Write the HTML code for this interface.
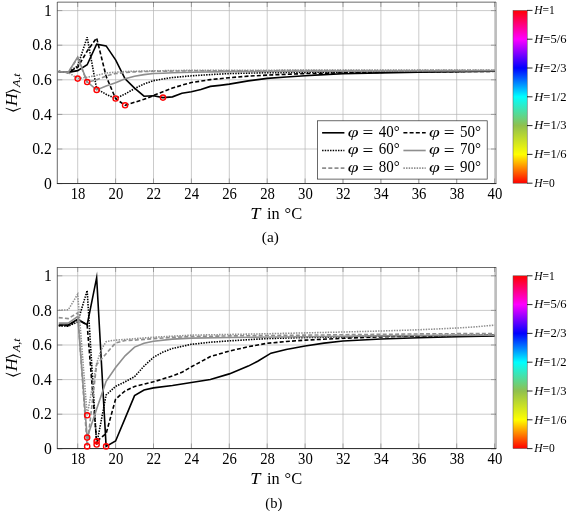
<!DOCTYPE html>
<html lang="en">
<head>
<meta charset="utf-8">
<title>Plot</title>
<style>
html,body{margin:0;padding:0;background:#fff;}
body{width:568px;height:511px;overflow:hidden;font-family:"Liberation Serif", "DejaVu Serif", "DejaVu Sans", serif;}
svg{display:block;}
</style>
</head>
<body>
<svg width="568" height="511" viewBox="0 0 568 511" font-family='"Liberation Serif", "DejaVu Serif", "DejaVu Sans", serif' fill="#000">
<rect x="0" y="0" width="568" height="511" fill="#fff"/>
<g>
<line x1="77.7" y1="2" x2="77.7" y2="183.5" stroke="#b4b4b4" stroke-width="0.7"/>
<line x1="115.6" y1="2" x2="115.6" y2="183.5" stroke="#b4b4b4" stroke-width="0.7"/>
<line x1="153.5" y1="2" x2="153.5" y2="183.5" stroke="#b4b4b4" stroke-width="0.7"/>
<line x1="191.4" y1="2" x2="191.4" y2="183.5" stroke="#b4b4b4" stroke-width="0.7"/>
<line x1="229.3" y1="2" x2="229.3" y2="183.5" stroke="#b4b4b4" stroke-width="0.7"/>
<line x1="267.2" y1="2" x2="267.2" y2="183.5" stroke="#b4b4b4" stroke-width="0.7"/>
<line x1="305.1" y1="2" x2="305.1" y2="183.5" stroke="#b4b4b4" stroke-width="0.7"/>
<line x1="343" y1="2" x2="343" y2="183.5" stroke="#b4b4b4" stroke-width="0.7"/>
<line x1="380.9" y1="2" x2="380.9" y2="183.5" stroke="#b4b4b4" stroke-width="0.7"/>
<line x1="418.8" y1="2" x2="418.8" y2="183.5" stroke="#b4b4b4" stroke-width="0.7"/>
<line x1="456.7" y1="2" x2="456.7" y2="183.5" stroke="#b4b4b4" stroke-width="0.7"/>
<line x1="494.6" y1="2" x2="494.6" y2="183.5" stroke="#b4b4b4" stroke-width="0.7"/>
<line x1="57.3" y1="183.6" x2="496" y2="183.6" stroke="#b4b4b4" stroke-width="0.7"/>
<line x1="57.3" y1="149" x2="496" y2="149" stroke="#b4b4b4" stroke-width="0.7"/>
<line x1="57.3" y1="114.4" x2="496" y2="114.4" stroke="#b4b4b4" stroke-width="0.7"/>
<line x1="57.3" y1="79.8" x2="496" y2="79.8" stroke="#b4b4b4" stroke-width="0.7"/>
<line x1="57.3" y1="45.2" x2="496" y2="45.2" stroke="#b4b4b4" stroke-width="0.7"/>
<line x1="57.3" y1="10.6" x2="496" y2="10.6" stroke="#b4b4b4" stroke-width="0.7"/>
<line x1="77.7" y1="183.5" x2="77.7" y2="178.5" stroke="#858585" stroke-width="0.7"/>
<line x1="77.7" y1="2" x2="77.7" y2="7" stroke="#858585" stroke-width="0.7"/>
<line x1="115.6" y1="183.5" x2="115.6" y2="178.5" stroke="#858585" stroke-width="0.7"/>
<line x1="115.6" y1="2" x2="115.6" y2="7" stroke="#858585" stroke-width="0.7"/>
<line x1="153.5" y1="183.5" x2="153.5" y2="178.5" stroke="#858585" stroke-width="0.7"/>
<line x1="153.5" y1="2" x2="153.5" y2="7" stroke="#858585" stroke-width="0.7"/>
<line x1="191.4" y1="183.5" x2="191.4" y2="178.5" stroke="#858585" stroke-width="0.7"/>
<line x1="191.4" y1="2" x2="191.4" y2="7" stroke="#858585" stroke-width="0.7"/>
<line x1="229.3" y1="183.5" x2="229.3" y2="178.5" stroke="#858585" stroke-width="0.7"/>
<line x1="229.3" y1="2" x2="229.3" y2="7" stroke="#858585" stroke-width="0.7"/>
<line x1="267.2" y1="183.5" x2="267.2" y2="178.5" stroke="#858585" stroke-width="0.7"/>
<line x1="267.2" y1="2" x2="267.2" y2="7" stroke="#858585" stroke-width="0.7"/>
<line x1="305.1" y1="183.5" x2="305.1" y2="178.5" stroke="#858585" stroke-width="0.7"/>
<line x1="305.1" y1="2" x2="305.1" y2="7" stroke="#858585" stroke-width="0.7"/>
<line x1="343" y1="183.5" x2="343" y2="178.5" stroke="#858585" stroke-width="0.7"/>
<line x1="343" y1="2" x2="343" y2="7" stroke="#858585" stroke-width="0.7"/>
<line x1="380.9" y1="183.5" x2="380.9" y2="178.5" stroke="#858585" stroke-width="0.7"/>
<line x1="380.9" y1="2" x2="380.9" y2="7" stroke="#858585" stroke-width="0.7"/>
<line x1="418.8" y1="183.5" x2="418.8" y2="178.5" stroke="#858585" stroke-width="0.7"/>
<line x1="418.8" y1="2" x2="418.8" y2="7" stroke="#858585" stroke-width="0.7"/>
<line x1="456.7" y1="183.5" x2="456.7" y2="178.5" stroke="#858585" stroke-width="0.7"/>
<line x1="456.7" y1="2" x2="456.7" y2="7" stroke="#858585" stroke-width="0.7"/>
<line x1="494.6" y1="183.5" x2="494.6" y2="178.5" stroke="#858585" stroke-width="0.7"/>
<line x1="494.6" y1="2" x2="494.6" y2="7" stroke="#858585" stroke-width="0.7"/>
<line x1="57.3" y1="183.6" x2="62.3" y2="183.6" stroke="#858585" stroke-width="0.7"/>
<line x1="496" y1="183.6" x2="491" y2="183.6" stroke="#858585" stroke-width="0.7"/>
<line x1="57.3" y1="149" x2="62.3" y2="149" stroke="#858585" stroke-width="0.7"/>
<line x1="496" y1="149" x2="491" y2="149" stroke="#858585" stroke-width="0.7"/>
<line x1="57.3" y1="114.4" x2="62.3" y2="114.4" stroke="#858585" stroke-width="0.7"/>
<line x1="496" y1="114.4" x2="491" y2="114.4" stroke="#858585" stroke-width="0.7"/>
<line x1="57.3" y1="79.8" x2="62.3" y2="79.8" stroke="#858585" stroke-width="0.7"/>
<line x1="496" y1="79.8" x2="491" y2="79.8" stroke="#858585" stroke-width="0.7"/>
<line x1="57.3" y1="45.2" x2="62.3" y2="45.2" stroke="#858585" stroke-width="0.7"/>
<line x1="496" y1="45.2" x2="491" y2="45.2" stroke="#858585" stroke-width="0.7"/>
<line x1="57.3" y1="10.6" x2="62.3" y2="10.6" stroke="#858585" stroke-width="0.7"/>
<line x1="496" y1="10.6" x2="491" y2="10.6" stroke="#858585" stroke-width="0.7"/>
<line x1="57.3" y1="2.15" x2="496" y2="2.15" stroke="#2a2a2a" stroke-width="0.7"/>
<line x1="57.3" y1="2" x2="57.3" y2="183.5" stroke="#2a2a2a" stroke-width="0.7"/>
<line x1="496" y1="2" x2="496" y2="183.5" stroke="#4a4a4a" stroke-width="0.7"/>
<line x1="56.9" y1="183.5" x2="496.4" y2="183.5" stroke="#222" stroke-width="0.9"/>
<clipPath id="clipa"><rect x="57.3" y="2" width="438.7" height="181.5"/></clipPath>
<g clip-path="url(#clipa)" stroke-linejoin="miter">
<polyline points="58.75,71.67 68.23,72.36 77.7,70.63 87.17,64.75 96.65,44.16 106.12,45.89 115.6,59.91 125.08,78.76 134.55,88.1 144.03,96.23 153.5,95.8 162.97,97.62 172.45,96.84 181.93,93.29 191.4,91.74 200.88,89.49 210.35,86.37 219.82,85.34 229.3,84.12 248.25,80.84 267.2,78.42 286.15,77.03 305.1,75.82 324.05,74.61 343,73.74 380.9,72.88 418.8,72.19 456.7,71.67 494.6,71.32" stroke="#000" stroke-width="1.6" fill="none" stroke-miterlimit="10"/>
<polyline points="58.75,71.67 68.23,72.36 77.7,67.34 87.17,51.08 96.65,37.93 106.12,76.34 115.6,98.55 125.08,105.3 134.55,102.29 144.03,99.35 153.5,95.54 162.97,91.74 172.45,88.1 181.93,85.16 191.4,82.57 210.35,79.63 229.3,77.72 248.25,76.17 267.2,75.13 305.1,73.57 324.05,73.23 343,72.88 380.9,72.36 418.8,71.84 494.6,71.32" stroke="#000" stroke-width="1.6" fill="none" stroke-dasharray="4 2.2"/>
<polyline points="58.75,71.67 68.23,72.36 77.7,65.96 87.17,37.24 96.65,88.8 106.12,94.33 115.6,98.55 125.08,93.99 134.55,88.62 144.03,83.95 153.5,80.66 162.97,78.94 172.45,77.55 191.4,75.82 210.35,74.61 229.3,73.57 267.2,72.71 305.1,72.36 380.9,71.84 494.6,71.15" stroke="#000" stroke-width="1.6" fill="none" stroke-dasharray="1.45 1.2"/>
<polyline points="58.75,71.67 68.23,72.36 77.7,56.96 87.17,81.88 96.65,89.92 106.12,86.03 115.6,82.74 125.08,78.76 134.55,76.17 144.03,74.61 153.5,73.57 162.97,73.23 172.45,72.71 191.4,72.19 229.3,71.67 305.1,71.15 494.6,70.8" stroke="#8e8e8e" stroke-width="1.6" fill="none" stroke-miterlimit="10"/>
<polyline points="58.75,71.67 68.23,72.36 77.7,58 87.17,82.22 96.65,79.8 106.12,75.99 115.6,73.57 125.08,72.53 134.55,71.84 153.5,71.32 191.4,70.8 305.1,70.63 494.6,70.28" stroke="#8e8e8e" stroke-width="1.6" fill="none" stroke-dasharray="4 2.2"/>
<polyline points="58.75,71.67 68.23,72.36 77.7,78.59 87.17,77.2 96.65,75.3 106.12,73.05 115.6,72.19 125.08,71.5 153.5,70.8 191.4,70.28 305.1,70.11 494.6,69.94" stroke="#8e8e8e" stroke-width="1.55" fill="none" stroke-dasharray="1.45 1.2"/>
</g>
<circle cx="77.7" cy="78.59" r="2.6" fill="none" stroke="#f00" stroke-width="1.4"/>
<circle cx="87.17" cy="82.05" r="2.6" fill="none" stroke="#f00" stroke-width="1.4"/>
<circle cx="96.65" cy="89.92" r="2.6" fill="none" stroke="#f00" stroke-width="1.4"/>
<circle cx="115.6" cy="98.55" r="2.6" fill="none" stroke="#f00" stroke-width="1.4"/>
<circle cx="125.08" cy="105.3" r="2.6" fill="none" stroke="#f00" stroke-width="1.4"/>
<circle cx="162.97" cy="97.62" r="2.6" fill="none" stroke="#f00" stroke-width="1.4"/>
<text x="78" y="198.5" text-anchor="middle" font-size="15.7" textLength="14.7" lengthAdjust="spacingAndGlyphs">18</text>
<text x="115.9" y="198.5" text-anchor="middle" font-size="15.7" textLength="14.7" lengthAdjust="spacingAndGlyphs">20</text>
<text x="153.8" y="198.5" text-anchor="middle" font-size="15.7" textLength="14.7" lengthAdjust="spacingAndGlyphs">22</text>
<text x="191.7" y="198.5" text-anchor="middle" font-size="15.7" textLength="14.7" lengthAdjust="spacingAndGlyphs">24</text>
<text x="229.6" y="198.5" text-anchor="middle" font-size="15.7" textLength="14.7" lengthAdjust="spacingAndGlyphs">26</text>
<text x="267.5" y="198.5" text-anchor="middle" font-size="15.7" textLength="14.7" lengthAdjust="spacingAndGlyphs">28</text>
<text x="305.4" y="198.5" text-anchor="middle" font-size="15.7" textLength="14.7" lengthAdjust="spacingAndGlyphs">30</text>
<text x="343.3" y="198.5" text-anchor="middle" font-size="15.7" textLength="14.7" lengthAdjust="spacingAndGlyphs">32</text>
<text x="381.2" y="198.5" text-anchor="middle" font-size="15.7" textLength="14.7" lengthAdjust="spacingAndGlyphs">34</text>
<text x="419.1" y="198.5" text-anchor="middle" font-size="15.7" textLength="14.7" lengthAdjust="spacingAndGlyphs">36</text>
<text x="457" y="198.5" text-anchor="middle" font-size="15.7" textLength="14.7" lengthAdjust="spacingAndGlyphs">38</text>
<text x="494.9" y="198.5" text-anchor="middle" font-size="15.7" textLength="14.7" lengthAdjust="spacingAndGlyphs">40</text>
<text x="51.8" y="188.8" text-anchor="end" font-size="15.7">0</text>
<text x="51.8" y="154.2" text-anchor="end" font-size="15.7" textLength="19.6" lengthAdjust="spacingAndGlyphs">0.2</text>
<text x="51.8" y="119.6" text-anchor="end" font-size="15.7" textLength="19.6" lengthAdjust="spacingAndGlyphs">0.4</text>
<text x="51.8" y="85" text-anchor="end" font-size="15.7" textLength="19.6" lengthAdjust="spacingAndGlyphs">0.6</text>
<text x="51.8" y="50.4" text-anchor="end" font-size="15.7" textLength="19.6" lengthAdjust="spacingAndGlyphs">0.8</text>
<text x="51.8" y="15.8" text-anchor="end" font-size="15.7">1</text>
<text x="250.3" y="219.25" font-size="15.9" font-style="italic" textLength="10.2" lengthAdjust="spacingAndGlyphs">T</text>
<text x="267" y="219.25" font-size="15.9" textLength="12.7" lengthAdjust="spacingAndGlyphs">in</text>
<text x="284.6" y="219.25" font-size="15.9" textLength="17.6" lengthAdjust="spacingAndGlyphs">°C</text>
<text x="261.8" y="242" font-size="14" textLength="17" lengthAdjust="spacingAndGlyphs">(a)</text>
<text transform="translate(17.9 113.05) rotate(-90)" font-size="18" font-family='"DejaVu Math TeX Gyre", "DejaVu Sans", sans-serif' textLength="6" lengthAdjust="spacingAndGlyphs">⟨</text>
<text transform="translate(17.2 106.3) rotate(-90)" font-size="15.7" font-style="italic" textLength="13" lengthAdjust="spacingAndGlyphs">H</text>
<text transform="translate(17.9 93.9) rotate(-90)" font-size="18" font-family='"DejaVu Math TeX Gyre", "DejaVu Sans", sans-serif' textLength="6" lengthAdjust="spacingAndGlyphs">⟩</text>
<text transform="translate(19.5 87.1) rotate(-90)" font-size="10.5" font-style="italic" textLength="13.6" lengthAdjust="spacingAndGlyphs">A,t</text>
<rect x="317.4" y="120.8" width="169.8" height="58.3" fill="#fff" stroke="#2a2a2a" stroke-width="0.7"/>
<line x1="322.1" y1="132.8" x2="344.4" y2="132.8" stroke="#000" stroke-width="1.6" fill="none" stroke-miterlimit="10"/>
<text x="347.7" y="136.6" font-size="15.5" font-style="italic" textLength="10.8" lengthAdjust="spacingAndGlyphs">φ</text>
<text x="362.5" y="138.4" font-size="17" textLength="10.8" lengthAdjust="spacingAndGlyphs">=</text>
<text x="378.8" y="136.6" font-size="16.2" textLength="21" lengthAdjust="spacingAndGlyphs">40°</text>
<line x1="403.4" y1="132.8" x2="425.7" y2="132.8" stroke="#000" stroke-width="1.6" fill="none" stroke-dasharray="4 2.2"/>
<text x="429" y="136.6" font-size="15.5" font-style="italic" textLength="10.8" lengthAdjust="spacingAndGlyphs">φ</text>
<text x="443.8" y="138.4" font-size="17" textLength="10.8" lengthAdjust="spacingAndGlyphs">=</text>
<text x="460.1" y="136.6" font-size="16.2" textLength="21" lengthAdjust="spacingAndGlyphs">50°</text>
<line x1="322.1" y1="150.5" x2="344.4" y2="150.5" stroke="#000" stroke-width="1.6" fill="none" stroke-dasharray="1.45 1.2"/>
<text x="347.7" y="154.3" font-size="15.5" font-style="italic" textLength="10.8" lengthAdjust="spacingAndGlyphs">φ</text>
<text x="362.5" y="156.1" font-size="17" textLength="10.8" lengthAdjust="spacingAndGlyphs">=</text>
<text x="378.8" y="154.3" font-size="16.2" textLength="21" lengthAdjust="spacingAndGlyphs">60°</text>
<line x1="403.4" y1="150.5" x2="425.7" y2="150.5" stroke="#8e8e8e" stroke-width="1.6" fill="none" stroke-miterlimit="10"/>
<text x="429" y="154.3" font-size="15.5" font-style="italic" textLength="10.8" lengthAdjust="spacingAndGlyphs">φ</text>
<text x="443.8" y="156.1" font-size="17" textLength="10.8" lengthAdjust="spacingAndGlyphs">=</text>
<text x="460.1" y="154.3" font-size="16.2" textLength="21" lengthAdjust="spacingAndGlyphs">70°</text>
<line x1="322.1" y1="168.1" x2="344.4" y2="168.1" stroke="#8e8e8e" stroke-width="1.6" fill="none" stroke-dasharray="4 2.2"/>
<text x="347.7" y="171.9" font-size="15.5" font-style="italic" textLength="10.8" lengthAdjust="spacingAndGlyphs">φ</text>
<text x="362.5" y="173.7" font-size="17" textLength="10.8" lengthAdjust="spacingAndGlyphs">=</text>
<text x="378.8" y="171.9" font-size="16.2" textLength="21" lengthAdjust="spacingAndGlyphs">80°</text>
<line x1="403.4" y1="168.1" x2="425.7" y2="168.1" stroke="#8e8e8e" stroke-width="1.55" fill="none" stroke-dasharray="1.45 1.2"/>
<text x="429" y="171.9" font-size="15.5" font-style="italic" textLength="10.8" lengthAdjust="spacingAndGlyphs">φ</text>
<text x="443.8" y="173.7" font-size="17" textLength="10.8" lengthAdjust="spacingAndGlyphs">=</text>
<text x="460.1" y="171.9" font-size="16.2" textLength="21" lengthAdjust="spacingAndGlyphs">90°</text>
<linearGradient id="cbga" x1="0" y1="1" x2="0" y2="0">
<stop offset="0%" stop-color="#ff0000"/>
<stop offset="16.67%" stop-color="#ffff00"/>
<stop offset="33.33%" stop-color="#90c04e"/>
<stop offset="50%" stop-color="#00ffff"/>
<stop offset="66.67%" stop-color="#0000ff"/>
<stop offset="83.33%" stop-color="#ff00ff"/>
<stop offset="100%" stop-color="#ff0000"/>
</linearGradient>
<rect x="513" y="10.4" width="14.2" height="172.8" fill="url(#cbga)" stroke="#555" stroke-width="0.5"/>
<line x1="527" y1="183.2" x2="532.5" y2="183.2" stroke="#111" stroke-width="0.9"/>
<text x="534.2" y="186.9" font-size="12" textLength="20.6" lengthAdjust="spacingAndGlyphs"><tspan font-style="italic">H</tspan>=0</text>
<line x1="527" y1="154.4" x2="532.5" y2="154.4" stroke="#111" stroke-width="0.9"/>
<text x="534.2" y="158.1" font-size="12" textLength="32.3" lengthAdjust="spacingAndGlyphs"><tspan font-style="italic">H</tspan>=1/6</text>
<line x1="527" y1="125.6" x2="532.5" y2="125.6" stroke="#111" stroke-width="0.9"/>
<text x="534.2" y="129.3" font-size="12" textLength="32.3" lengthAdjust="spacingAndGlyphs"><tspan font-style="italic">H</tspan>=1/3</text>
<line x1="527" y1="96.8" x2="532.5" y2="96.8" stroke="#111" stroke-width="0.9"/>
<text x="534.2" y="100.5" font-size="12" textLength="32.3" lengthAdjust="spacingAndGlyphs"><tspan font-style="italic">H</tspan>=1/2</text>
<line x1="527" y1="68" x2="532.5" y2="68" stroke="#111" stroke-width="0.9"/>
<text x="534.2" y="71.7" font-size="12" textLength="32.3" lengthAdjust="spacingAndGlyphs"><tspan font-style="italic">H</tspan>=2/3</text>
<line x1="527" y1="39.2" x2="532.5" y2="39.2" stroke="#111" stroke-width="0.9"/>
<text x="534.2" y="42.9" font-size="12" textLength="32.3" lengthAdjust="spacingAndGlyphs"><tspan font-style="italic">H</tspan>=5/6</text>
<line x1="527" y1="10.4" x2="532.5" y2="10.4" stroke="#111" stroke-width="0.9"/>
<text x="534.2" y="14.1" font-size="12" textLength="20.6" lengthAdjust="spacingAndGlyphs"><tspan font-style="italic">H</tspan>=1</text>
</g>
<g>
<line x1="77.7" y1="267" x2="77.7" y2="448.5" stroke="#b4b4b4" stroke-width="0.7"/>
<line x1="115.6" y1="267" x2="115.6" y2="448.5" stroke="#b4b4b4" stroke-width="0.7"/>
<line x1="153.5" y1="267" x2="153.5" y2="448.5" stroke="#b4b4b4" stroke-width="0.7"/>
<line x1="191.4" y1="267" x2="191.4" y2="448.5" stroke="#b4b4b4" stroke-width="0.7"/>
<line x1="229.3" y1="267" x2="229.3" y2="448.5" stroke="#b4b4b4" stroke-width="0.7"/>
<line x1="267.2" y1="267" x2="267.2" y2="448.5" stroke="#b4b4b4" stroke-width="0.7"/>
<line x1="305.1" y1="267" x2="305.1" y2="448.5" stroke="#b4b4b4" stroke-width="0.7"/>
<line x1="343" y1="267" x2="343" y2="448.5" stroke="#b4b4b4" stroke-width="0.7"/>
<line x1="380.9" y1="267" x2="380.9" y2="448.5" stroke="#b4b4b4" stroke-width="0.7"/>
<line x1="418.8" y1="267" x2="418.8" y2="448.5" stroke="#b4b4b4" stroke-width="0.7"/>
<line x1="456.7" y1="267" x2="456.7" y2="448.5" stroke="#b4b4b4" stroke-width="0.7"/>
<line x1="494.6" y1="267" x2="494.6" y2="448.5" stroke="#b4b4b4" stroke-width="0.7"/>
<line x1="57.3" y1="448.8" x2="496" y2="448.8" stroke="#b4b4b4" stroke-width="0.7"/>
<line x1="57.3" y1="414.2" x2="496" y2="414.2" stroke="#b4b4b4" stroke-width="0.7"/>
<line x1="57.3" y1="379.6" x2="496" y2="379.6" stroke="#b4b4b4" stroke-width="0.7"/>
<line x1="57.3" y1="345" x2="496" y2="345" stroke="#b4b4b4" stroke-width="0.7"/>
<line x1="57.3" y1="310.4" x2="496" y2="310.4" stroke="#b4b4b4" stroke-width="0.7"/>
<line x1="57.3" y1="275.8" x2="496" y2="275.8" stroke="#b4b4b4" stroke-width="0.7"/>
<line x1="77.7" y1="448.5" x2="77.7" y2="443.5" stroke="#858585" stroke-width="0.7"/>
<line x1="77.7" y1="267" x2="77.7" y2="272" stroke="#858585" stroke-width="0.7"/>
<line x1="115.6" y1="448.5" x2="115.6" y2="443.5" stroke="#858585" stroke-width="0.7"/>
<line x1="115.6" y1="267" x2="115.6" y2="272" stroke="#858585" stroke-width="0.7"/>
<line x1="153.5" y1="448.5" x2="153.5" y2="443.5" stroke="#858585" stroke-width="0.7"/>
<line x1="153.5" y1="267" x2="153.5" y2="272" stroke="#858585" stroke-width="0.7"/>
<line x1="191.4" y1="448.5" x2="191.4" y2="443.5" stroke="#858585" stroke-width="0.7"/>
<line x1="191.4" y1="267" x2="191.4" y2="272" stroke="#858585" stroke-width="0.7"/>
<line x1="229.3" y1="448.5" x2="229.3" y2="443.5" stroke="#858585" stroke-width="0.7"/>
<line x1="229.3" y1="267" x2="229.3" y2="272" stroke="#858585" stroke-width="0.7"/>
<line x1="267.2" y1="448.5" x2="267.2" y2="443.5" stroke="#858585" stroke-width="0.7"/>
<line x1="267.2" y1="267" x2="267.2" y2="272" stroke="#858585" stroke-width="0.7"/>
<line x1="305.1" y1="448.5" x2="305.1" y2="443.5" stroke="#858585" stroke-width="0.7"/>
<line x1="305.1" y1="267" x2="305.1" y2="272" stroke="#858585" stroke-width="0.7"/>
<line x1="343" y1="448.5" x2="343" y2="443.5" stroke="#858585" stroke-width="0.7"/>
<line x1="343" y1="267" x2="343" y2="272" stroke="#858585" stroke-width="0.7"/>
<line x1="380.9" y1="448.5" x2="380.9" y2="443.5" stroke="#858585" stroke-width="0.7"/>
<line x1="380.9" y1="267" x2="380.9" y2="272" stroke="#858585" stroke-width="0.7"/>
<line x1="418.8" y1="448.5" x2="418.8" y2="443.5" stroke="#858585" stroke-width="0.7"/>
<line x1="418.8" y1="267" x2="418.8" y2="272" stroke="#858585" stroke-width="0.7"/>
<line x1="456.7" y1="448.5" x2="456.7" y2="443.5" stroke="#858585" stroke-width="0.7"/>
<line x1="456.7" y1="267" x2="456.7" y2="272" stroke="#858585" stroke-width="0.7"/>
<line x1="494.6" y1="448.5" x2="494.6" y2="443.5" stroke="#858585" stroke-width="0.7"/>
<line x1="494.6" y1="267" x2="494.6" y2="272" stroke="#858585" stroke-width="0.7"/>
<line x1="57.3" y1="448.8" x2="62.3" y2="448.8" stroke="#858585" stroke-width="0.7"/>
<line x1="496" y1="448.8" x2="491" y2="448.8" stroke="#858585" stroke-width="0.7"/>
<line x1="57.3" y1="414.2" x2="62.3" y2="414.2" stroke="#858585" stroke-width="0.7"/>
<line x1="496" y1="414.2" x2="491" y2="414.2" stroke="#858585" stroke-width="0.7"/>
<line x1="57.3" y1="379.6" x2="62.3" y2="379.6" stroke="#858585" stroke-width="0.7"/>
<line x1="496" y1="379.6" x2="491" y2="379.6" stroke="#858585" stroke-width="0.7"/>
<line x1="57.3" y1="345" x2="62.3" y2="345" stroke="#858585" stroke-width="0.7"/>
<line x1="496" y1="345" x2="491" y2="345" stroke="#858585" stroke-width="0.7"/>
<line x1="57.3" y1="310.4" x2="62.3" y2="310.4" stroke="#858585" stroke-width="0.7"/>
<line x1="496" y1="310.4" x2="491" y2="310.4" stroke="#858585" stroke-width="0.7"/>
<line x1="57.3" y1="275.8" x2="62.3" y2="275.8" stroke="#858585" stroke-width="0.7"/>
<line x1="496" y1="275.8" x2="491" y2="275.8" stroke="#858585" stroke-width="0.7"/>
<line x1="57.3" y1="267.5" x2="496" y2="267.5" stroke="#2a2a2a" stroke-width="0.7"/>
<line x1="57.3" y1="267" x2="57.3" y2="448.5" stroke="#2a2a2a" stroke-width="0.7"/>
<line x1="496" y1="267" x2="496" y2="448.5" stroke="#4a4a4a" stroke-width="0.7"/>
<line x1="56.9" y1="448.5" x2="496.4" y2="448.5" stroke="#222" stroke-width="0.9"/>
<clipPath id="clipb"><rect x="57.3" y="267" width="438.7" height="181.5"/></clipPath>
<g clip-path="url(#clipb)" stroke-linejoin="miter">
<polyline points="58.75,324.93 68.23,325.02 77.7,319.22 87.17,324.66 96.65,277.7 106.12,446.4 115.6,441.01 125.08,418.35 134.55,395.6 144.03,389.98 153.5,387.9 172.45,385.48 191.4,382.54 210.35,379.43 229.3,373.89 248.25,366.11 257.73,361.26 270.99,353.13 286.15,349.5 305.1,346.04 324.05,343.1 343,341.02 380.9,338.94 418.8,337.73 456.7,336.7 494.6,336" stroke="#000" stroke-width="1.6" fill="none" stroke-miterlimit="10"/>
<polyline points="58.75,325.45 68.23,325.62 77.7,319.92 87.17,324.93 96.65,441.36 106.12,433.49 115.6,399.15 125.08,390.85 134.55,386.52 153.5,381.85 172.45,375.97 181.93,372.33 191.4,366.8 210.35,356.59 229.3,351.06 248.25,346.73 267.2,343.27 286.15,341.54 305.1,340.16 343,338.25 380.9,336.87 418.8,336 494.6,335.31" stroke="#000" stroke-width="1.6" fill="none" stroke-dasharray="4 2.2"/>
<polyline points="58.75,325.8 68.23,326.14 77.7,321.9 87.17,290.5 96.65,444.53 106.12,395 115.6,386.35 125.08,381.85 134.55,376.66 144.03,366.11 153.5,357.28 162.97,352.09 172.45,348.46 191.4,344.31 210.35,342.23 229.3,340.85 267.2,338.6 305.1,337.56 380.9,336.18 494.6,335.14" stroke="#000" stroke-width="1.6" fill="none" stroke-dasharray="1.45 1.2"/>
<polyline points="58.75,323.1 68.23,323.1 77.7,316.46 87.17,437.61 96.65,409.01 106.12,381.33 115.6,367.49 125.08,355.81 134.55,347.08 144.03,343.27 153.5,341.19 172.45,339.12 191.4,338.08 229.3,337.56 305.1,336.7 380.9,335.83 418.8,335.49 494.6,335.14" stroke="#8e8e8e" stroke-width="1.6" fill="none" stroke-miterlimit="10"/>
<polyline points="58.75,317.67 68.23,318.62 77.7,312.82 87.17,446.4 96.65,364.55 106.12,353.65 115.6,342.92 125.08,340.57 134.55,340.16 153.5,338.67 172.45,337.39 191.4,336.52 229.3,335.92 305.1,335.14 418.8,333.93 494.6,333.41" stroke="#8e8e8e" stroke-width="1.6" fill="none" stroke-dasharray="4 2.2"/>
<polyline points="58.75,310.23 68.23,309.79 77.7,294.14 87.17,415.31 96.65,363.34 101.39,349.15 106.12,341.71 110.86,340.68 115.6,340.16 153.5,337.22 191.4,335.14 229.3,334.45 267.2,333.75 305.1,332.89 343,332.02 380.9,330.99 418.8,329.78 456.7,328.05 475.65,326.84 494.6,325.11" stroke="#8e8e8e" stroke-width="1.55" fill="none" stroke-dasharray="1.45 1.2"/>
</g>
<circle cx="87.17" cy="415.31" r="2.6" fill="none" stroke="#f00" stroke-width="1.4"/>
<circle cx="87.17" cy="437.61" r="2.6" fill="none" stroke="#f00" stroke-width="1.4"/>
<circle cx="87.17" cy="446.4" r="2.6" fill="none" stroke="#f00" stroke-width="1.4"/>
<circle cx="96.65" cy="441.36" r="2.6" fill="none" stroke="#f00" stroke-width="1.4"/>
<circle cx="96.65" cy="444.53" r="2.6" fill="none" stroke="#f00" stroke-width="1.4"/>
<circle cx="106.12" cy="446.4" r="2.6" fill="none" stroke="#f00" stroke-width="1.4"/>
<text x="78" y="463.5" text-anchor="middle" font-size="15.7" textLength="14.7" lengthAdjust="spacingAndGlyphs">18</text>
<text x="115.9" y="463.5" text-anchor="middle" font-size="15.7" textLength="14.7" lengthAdjust="spacingAndGlyphs">20</text>
<text x="153.8" y="463.5" text-anchor="middle" font-size="15.7" textLength="14.7" lengthAdjust="spacingAndGlyphs">22</text>
<text x="191.7" y="463.5" text-anchor="middle" font-size="15.7" textLength="14.7" lengthAdjust="spacingAndGlyphs">24</text>
<text x="229.6" y="463.5" text-anchor="middle" font-size="15.7" textLength="14.7" lengthAdjust="spacingAndGlyphs">26</text>
<text x="267.5" y="463.5" text-anchor="middle" font-size="15.7" textLength="14.7" lengthAdjust="spacingAndGlyphs">28</text>
<text x="305.4" y="463.5" text-anchor="middle" font-size="15.7" textLength="14.7" lengthAdjust="spacingAndGlyphs">30</text>
<text x="343.3" y="463.5" text-anchor="middle" font-size="15.7" textLength="14.7" lengthAdjust="spacingAndGlyphs">32</text>
<text x="381.2" y="463.5" text-anchor="middle" font-size="15.7" textLength="14.7" lengthAdjust="spacingAndGlyphs">34</text>
<text x="419.1" y="463.5" text-anchor="middle" font-size="15.7" textLength="14.7" lengthAdjust="spacingAndGlyphs">36</text>
<text x="457" y="463.5" text-anchor="middle" font-size="15.7" textLength="14.7" lengthAdjust="spacingAndGlyphs">38</text>
<text x="494.9" y="463.5" text-anchor="middle" font-size="15.7" textLength="14.7" lengthAdjust="spacingAndGlyphs">40</text>
<text x="51.8" y="454" text-anchor="end" font-size="15.7">0</text>
<text x="51.8" y="419.4" text-anchor="end" font-size="15.7" textLength="19.6" lengthAdjust="spacingAndGlyphs">0.2</text>
<text x="51.8" y="384.8" text-anchor="end" font-size="15.7" textLength="19.6" lengthAdjust="spacingAndGlyphs">0.4</text>
<text x="51.8" y="350.2" text-anchor="end" font-size="15.7" textLength="19.6" lengthAdjust="spacingAndGlyphs">0.6</text>
<text x="51.8" y="315.6" text-anchor="end" font-size="15.7" textLength="19.6" lengthAdjust="spacingAndGlyphs">0.8</text>
<text x="51.8" y="281" text-anchor="end" font-size="15.7">1</text>
<text x="250.3" y="484.25" font-size="15.9" font-style="italic" textLength="10.2" lengthAdjust="spacingAndGlyphs">T</text>
<text x="267" y="484.25" font-size="15.9" textLength="12.7" lengthAdjust="spacingAndGlyphs">in</text>
<text x="284.6" y="484.25" font-size="15.9" textLength="17.6" lengthAdjust="spacingAndGlyphs">°C</text>
<text x="265.3" y="507.8" font-size="14" textLength="17" lengthAdjust="spacingAndGlyphs">(b)</text>
<text transform="translate(17.9 378.05) rotate(-90)" font-size="18" font-family='"DejaVu Math TeX Gyre", "DejaVu Sans", sans-serif' textLength="6" lengthAdjust="spacingAndGlyphs">⟨</text>
<text transform="translate(17.2 371.3) rotate(-90)" font-size="15.7" font-style="italic" textLength="13" lengthAdjust="spacingAndGlyphs">H</text>
<text transform="translate(17.9 358.9) rotate(-90)" font-size="18" font-family='"DejaVu Math TeX Gyre", "DejaVu Sans", sans-serif' textLength="6" lengthAdjust="spacingAndGlyphs">⟩</text>
<text transform="translate(19.5 352.1) rotate(-90)" font-size="10.5" font-style="italic" textLength="13.6" lengthAdjust="spacingAndGlyphs">A,t</text>
<linearGradient id="cbgb" x1="0" y1="1" x2="0" y2="0">
<stop offset="0%" stop-color="#ff0000"/>
<stop offset="16.67%" stop-color="#ffff00"/>
<stop offset="33.33%" stop-color="#90c04e"/>
<stop offset="50%" stop-color="#00ffff"/>
<stop offset="66.67%" stop-color="#0000ff"/>
<stop offset="83.33%" stop-color="#ff00ff"/>
<stop offset="100%" stop-color="#ff0000"/>
</linearGradient>
<rect x="513" y="275.8" width="14.2" height="172.8" fill="url(#cbgb)" stroke="#555" stroke-width="0.5"/>
<line x1="527" y1="448.6" x2="532.5" y2="448.6" stroke="#111" stroke-width="0.9"/>
<text x="534.2" y="452.3" font-size="12" textLength="20.6" lengthAdjust="spacingAndGlyphs"><tspan font-style="italic">H</tspan>=0</text>
<line x1="527" y1="419.8" x2="532.5" y2="419.8" stroke="#111" stroke-width="0.9"/>
<text x="534.2" y="423.5" font-size="12" textLength="32.3" lengthAdjust="spacingAndGlyphs"><tspan font-style="italic">H</tspan>=1/6</text>
<line x1="527" y1="391" x2="532.5" y2="391" stroke="#111" stroke-width="0.9"/>
<text x="534.2" y="394.7" font-size="12" textLength="32.3" lengthAdjust="spacingAndGlyphs"><tspan font-style="italic">H</tspan>=1/3</text>
<line x1="527" y1="362.2" x2="532.5" y2="362.2" stroke="#111" stroke-width="0.9"/>
<text x="534.2" y="365.9" font-size="12" textLength="32.3" lengthAdjust="spacingAndGlyphs"><tspan font-style="italic">H</tspan>=1/2</text>
<line x1="527" y1="333.4" x2="532.5" y2="333.4" stroke="#111" stroke-width="0.9"/>
<text x="534.2" y="337.1" font-size="12" textLength="32.3" lengthAdjust="spacingAndGlyphs"><tspan font-style="italic">H</tspan>=2/3</text>
<line x1="527" y1="304.6" x2="532.5" y2="304.6" stroke="#111" stroke-width="0.9"/>
<text x="534.2" y="308.3" font-size="12" textLength="32.3" lengthAdjust="spacingAndGlyphs"><tspan font-style="italic">H</tspan>=5/6</text>
<line x1="527" y1="275.8" x2="532.5" y2="275.8" stroke="#111" stroke-width="0.9"/>
<text x="534.2" y="279.5" font-size="12" textLength="20.6" lengthAdjust="spacingAndGlyphs"><tspan font-style="italic">H</tspan>=1</text>
</g>
</svg>
</body>
</html>
